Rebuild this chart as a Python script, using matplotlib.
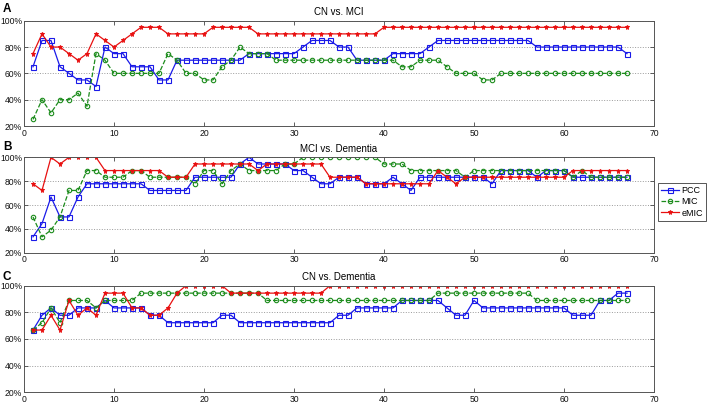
import numpy as np
from matplotlib import pyplot as plt
from matplotlib.ticker import FuncFormatter

plt.rcParams['font.family'] = ['Liberation Sans', 'DejaVu Sans']

# number of selected features on the x axis
n_features = np.arange(1, 68)

# A: CN vs. MCI
a_pcc = ([65, 85, 85, 65, 60, 55, 55, 50, 80, 75, 75, 65, 65, 65, 55, 55,
          70, 70, 70, 70, 70, 70, 70, 70] + [75] * 6 + [80] + [85] * 3
         + [80] * 2 + [70] * 4 + [75] * 4 + [80] + [85] * 11 + [80] * 10
         + [75])
a_mic = ([25, 40, 30, 40, 40, 45, 35, 75, 70, 60, 60, 60, 60, 60, 60, 75,
          70, 60, 60, 55, 55, 65, 70, 80] + [75] * 3 + [70] * 14 + [65] * 2
         + [70] * 3 + [65] + [60] * 3 + [55] * 2 + [60] * 15)
a_emic = ([75, 90, 80, 80, 75, 70, 75, 90, 85, 80, 85, 90, 95, 95, 95, 90,
           90, 90, 90, 90, 95, 95, 95, 95, 95] + [90] * 14 + [95] * 28)

# B: MCI vs. Dementia
b_pcc = ([33.3, 44.4, 66.7, 50, 50, 66.7] + [77.8] * 7 + [72.2] * 5
         + [83.3] * 5 + [94.4, 100] + [94.4] * 4 + [88.9] * 2 + [83.3]
         + [77.8] * 2 + [83.3] * 3 + [77.8] * 3 + [83.3, 77.8, 72.2]
         + [83.3] * 8 + [77.8] + [88.9] * 4 + [83.3] + [88.9] * 3
         + [83.3] * 7)
b_mic = ([50, 33.3, 38.9, 50, 72.2, 72.2, 88.9, 88.9] + [83.3] * 3
         + [88.9] * 2 + [83.3] * 5 + [77.8, 88.9, 88.9, 77.8, 88.9, 94.4]
         + [88.9] * 4 + [94.4] * 2 + [100] * 9 + [94.4] * 3 + [88.9] * 6
         + [83.3] + [88.9] * 11 + [83.3, 88.9] + [83.3] * 5)
b_emic = ([77.8, 72.2, 100, 94.4, 100, 100, 100, 100] + [88.9] * 7
          + [83.3] * 3 + [94.4] * 7 + [88.9] + [94.4] * 7 + [83.3] * 4
          + [77.8] * 8 + [88.9, 83.3, 77.8] + [83.3] * 12 + [88.9] * 7)

# C: CN vs. Dementia
c_pcc = ([66.7, 77.8, 83.3, 77.8, 77.8, 83.3, 83.3, 83.3, 88.9, 83.3, 83.3,
          83.3, 83.3, 77.8, 77.8] + [72.2] * 6 + [77.8] * 2 + [72.2] * 11
         + [77.8] * 2 + [83.3] * 5 + [88.9] * 5 + [83.3] + [77.8] * 2
         + [88.9] + [83.3] * 10 + [77.8] * 3 + [88.9] * 2 + [94.4] * 2)
c_mic = ([66.7, 72.2, 83.3, 72.2, 88.9, 88.9, 88.9, 83.3, 88.9, 88.9, 88.9,
          88.9] + [94.4] * 14 + [88.9] * 19 + [94.4] * 11 + [88.9] * 11)
c_emic = ([66.7, 66.7, 77.8, 66.7, 88.9, 77.8, 83.3, 77.8, 94.4, 94.4, 94.4,
           83.3, 83.3, 77.8, 77.8, 83.3, 94.4] + [100] * 5 + [94.4] * 11
          + [100] * 34)

panel_titles = ["CN vs. MCI", "MCI vs. Dementia", "CN vs. Dementia"]
panel_letters = ["A", "B", "C"]
series_names = ["PCC", "MIC", "eMIC"]
panel_data = [(a_pcc, a_mic, a_emic),
              (b_pcc, b_mic, b_emic),
              (c_pcc, c_mic, c_emic)]

fig = plt.figure(figsize=(7.08, 4.04), dpi=100)
positions = [
    [0.0339, 0.6881, 0.8898, 0.2606],
    [0.0339, 0.3745, 0.8898, 0.2361],
    [0.0339, 0.0290, 0.8898, 0.2639],
]
letter_y = [0.992, 0.652, 0.330]

for index, (pcc, mic, emic) in enumerate(panel_data):
    ax = fig.add_axes(positions[index])
    ax.plot(n_features, pcc, "-s", color="#1a1ae8", lw=0.9, ms=3.6,
            mfc="none", mew=0.8, label=series_names[0])
    ax.plot(n_features, mic, "--o", color="#1c8c1c", lw=0.9, ms=3.2,
            mfc="none", mew=0.8, label=series_names[1])
    ax.plot(n_features, emic, "-*", color="#e81010", lw=0.9, ms=3.6,
            mew=0.6, label=series_names[2])

    ax.set_xlim(0, 70)
    ax.set_ylim(20, 100)
    ax.set_xticks(np.arange(0, 71, 10))
    ax.set_yticks(np.arange(20, 101, 20))
    ax.yaxis.set_major_formatter(FuncFormatter(lambda v, p: "%d%%" % v))
    ax.tick_params(direction="in", top=True, right=True, length=3,
                   width=0.6, labelsize=6.2, pad=2, colors="#444444",
                   labelcolor="#111111")
    ax.tick_params(axis="y", pad=1.5)
    ax.grid(axis="y", linestyle=":", color="#9a9a9a", linewidth=0.7)
    for spine in ax.spines.values():
        spine.set_color("#555555")
        spine.set_linewidth(0.7)
    ax.set_title(panel_titles[index], fontsize=7, pad=4)
    fig.text(0.004, letter_y[index], panel_letters[index], fontsize=8.5,
             fontweight="bold", va="top", ha="left")

    if index == 1:
        legend = ax.legend(loc="upper left", bbox_to_anchor=(1.006, 0.731),
                           borderaxespad=0, fontsize=6.5, handlelength=2.0,
                           handletextpad=0.3, labelspacing=0.25,
                           borderpad=0.35, fancybox=False, framealpha=1)
        legend.get_frame().set_edgecolor("#555555")
        legend.get_frame().set_linewidth(0.7)

fig.savefig("out.png", dpi=100)
